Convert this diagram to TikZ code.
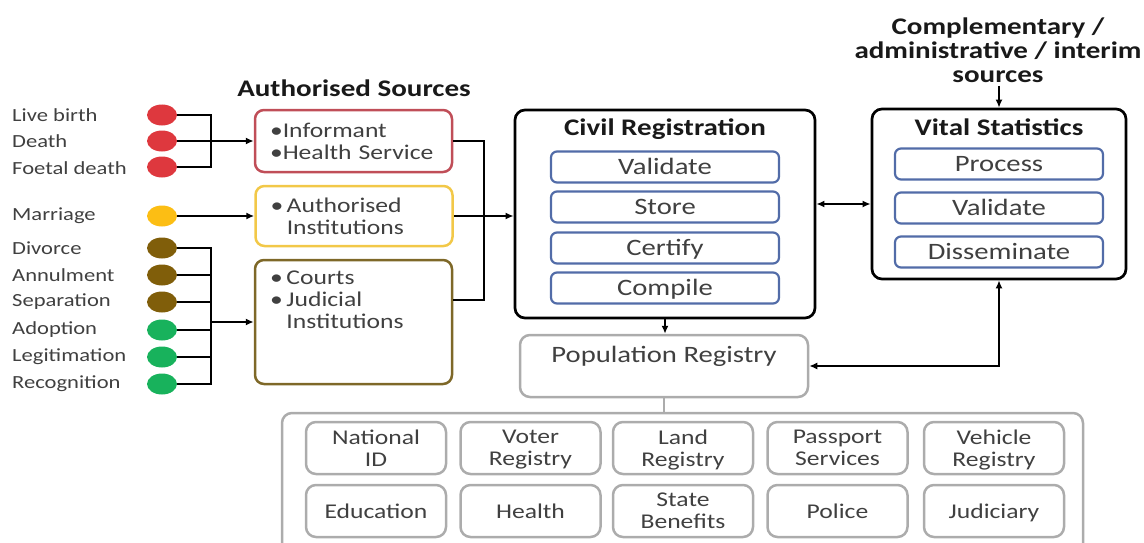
\documentclass[tikz,border=0pt]{standalone}
\usepackage{fontspec}
\setmainfont{Carlito}[FakeStretch=1.22]
\usetikzlibrary{shapes.geometric,arrows.meta}

\definecolor{txt}{RGB}{64,64,64}
\definecolor{ttlc}{RGB}{25,25,25}
\definecolor{dred}{RGB}{222,56,62}
\definecolor{dyel}{RGB}{252,190,20}
\definecolor{dbrn}{RGB}{128,94,10}
\definecolor{dgrn}{RGB}{24,178,92}
\definecolor{bred}{RGB}{192,78,88}
\definecolor{byel}{RGB}{242,200,72}
\definecolor{bbrn}{RGB}{126,104,40}
\definecolor{bblu}{RGB}{82,108,168}
\definecolor{bgry}{RGB}{172,172,172}

\begin{document}
\begin{tikzpicture}[x=1pt,y=-1pt,>={Latex[length=8pt,width=7pt]},
    lbl/.style={anchor=west,inner sep=0pt,text=txt,font=\fontsize{18.5}{22}\selectfont},
    evdot/.style={ellipse,minimum width=30pt,minimum height=21pt,inner sep=0pt},
    srcbox/.style={draw,line width=2.5pt,rounded corners=9pt,minimum width=197pt,
        text width=167pt,inner xsep=15pt,align=left,text=txt,font=\fontsize{21}{22}\selectfont},
    ttl/.style={text=ttlc,font=\bfseries\fontsize{23.8}{24}\selectfont},
    sysbox/.style={draw=black,line width=2.7pt,rounded corners=10pt},
    task/.style={draw=bblu,line width=2.2pt,rounded corners=6pt,minimum height=31pt,
        text=txt,font=\fontsize{23.5}{24}\selectfont,inner sep=0pt,
        text height=15pt,text depth=0pt},
    reg/.style={draw=bgry,line width=2.5pt,rounded corners=10pt},
    agency/.style={reg,minimum width=140pt,minimum height=52pt,align=center,
        text=txt,font=\fontsize{21}{22}\selectfont,inner sep=0pt,text depth=0pt},
    conn/.style={line width=2pt,draw=black}]
    \useasboundingbox (0,0) rectangle (1144,543);
    \clip (0,0) rectangle (1144,543);

    % 事件名称
    \node[lbl] (llb) at (12,115) {Live birth};
    \node[lbl] (ldt) at (12,141) {Death};
    \node[lbl] (lfd) at (12,168) {Foetal death};
    \node[lbl] (lmr) at (12,216) {Marriage};
    \node[lbl] (ldv) at (12,248) {Divorce};
    \node[lbl] (lan) at (12,275) {Annulment};
    \node[lbl] (lsp) at (12,302) {Separation};
    \node[lbl] (lad) at (12,330) {Adoption};
    \node[lbl] (llg) at (12,357) {Legitimation};
    \node[lbl] (lrc) at (12,384) {Recognition};

    % 彩色圆点
    \node[evdot,fill=dred] (dlb) at (162,115) {};
    \node[evdot,fill=dred] (ddt) at (162,141) {};
    \node[evdot,fill=dred] (dfd) at (162,167) {};
    \node[evdot,fill=dyel] (dmr) at (162,216) {};
    \node[evdot,fill=dbrn] (ddv) at (162,248) {};
    \node[evdot,fill=dbrn] (dan) at (162,275) {};
    \node[evdot,fill=dbrn] (dsp) at (162,302) {};
    \node[evdot,fill=dgrn] (dad) at (162,330) {};
    \node[evdot,fill=dgrn] (dlg) at (162,357) {};
    \node[evdot,fill=dgrn] (drc) at (162,384) {};

    % 授权来源
    \node[ttl] (srct) at (354,88) {Authorised Sources};
    \node[srcbox,draw=bred,minimum height=62pt] (inf) at (353.5,141)
        {\textbullet Informant\\\textbullet Health Service};
    \node[srcbox,draw=byel,minimum height=60pt] (aut) at (354,216)
        {\textbullet\,Authorised\\\hphantom{\textbullet\,}Institutions};
    \node[srcbox,draw=bbrn,minimum height=124pt] (jud) at (353.5,322) {};
    \node[lbl,anchor=north west,text width=167pt,align=left,font=\fontsize{21}{22}\selectfont]
        (judt) at (270,271) {\textbullet\,Courts\\\textbullet\,Judicial\\\hphantom{\textbullet\,}Institutions};

    % 民事登记
    \node[sysbox,minimum width=300pt,minimum height=208pt] (civ) at (665,214) {};
    \node[ttl] (civt) at (665,129) {Civil Registration};
    \node[task,minimum width=228pt] (cval) at (665,167) {Validate};
    \node[task,minimum width=228pt] (csto) at (665,207) {Store};
    \node[task,minimum width=228pt] (ccer) at (665,248) {Certify};
    \node[task,minimum width=228pt] (ccom) at (665,288) {Compile};

    % 人口动态统计
    \node[ttl,align=center] (comp) at (998,50)
        {Complementary /\\administrative / interim\\sources};
    \node[sysbox,minimum width=254pt,minimum height=170pt] (vit) at (999,194) {};
    \node[ttl] (vitt) at (999,127) {Vital Statistics};
    \node[task,minimum width=208pt] (vpro) at (999,164) {Process};
    \node[task,minimum width=208pt] (vval) at (999,208) {Validate};
    \node[task,minimum width=208pt] (vdis) at (999,252) {Disseminate};

    % 人口登记及相关机构
    \node[reg,minimum width=288pt,minimum height=62pt,
        label={[anchor=north,yshift=-9pt,text=txt,font=\fontsize{23.5}{24}\selectfont]north:Population Registry}]
        (pop) at (664,366) {};
    \node[reg,minimum width=801pt,minimum height=147pt] (agencies) at (682.5,486.5) {};
    \node[agency] (nid) at (376,448) {National\\ID};
    \node[agency] (vot) at (530.5,448) {Voter\\Registry};
    \node[agency] (lnd) at (683,448) {Land\\Registry};
    \node[agency] (psp) at (837.5,448) {Passport\\Services};
    \node[agency] (veh) at (994,448) {Vehicle\\Registry};
    \node[agency] (edu) at (376,511) {Education};
    \node[agency] (hlt) at (530.5,511) {Health};
    \node[agency] (stb) at (683,511) {State\\Benefits};
    \node[agency] (pol) at (837.5,511) {Police};
    \node[agency] (jdc) at (994,511) {Judiciary};

    % 连接线
    \coordinate (busl) at (211,0);
    \coordinate (busr) at (484,0);
    \coordinate (judo) at ([yshift=22pt]jud.east);
    \draw[conn] (dlb.east) -| (busl |- dfd) -- (dfd.east);
    \draw[conn,->] (ddt.east) -- (inf.west);
    \draw[conn,->] (dmr.east) -- (aut.west);
    \draw[conn] (ddv.east) -| (busl |- drc) -- (drc.east);
    \draw[conn] (dan.east) -- (dan.east -| busl);
    \draw[conn] (dsp.east) -- (dsp.east -| busl);
    \draw[conn] (dad.east) -- (dad.east -| busl);
    \draw[conn] (dlg.east) -- (dlg.east -| busl);
    \draw[conn,->] (busl |- jud.west) -- (jud.west);
    \draw[conn] (inf.east) -| (busr |- judo) -- (judo);
    \draw[conn,->] (aut.east) -- (aut.east -| civ.west);
    \draw[conn,<->] ([yshift=10pt]civ.east) -- ([yshift=10pt]civ.east -| vit.west);
    \draw[conn,->] (vit.north |- comp.south) -- (vit.north);
    \draw[conn,->] (civ.south) -- (civ.south |- pop.north);
    \draw[conn,<->] (pop.east) -| (vit.south);
    \draw[line width=2pt,draw=bgry] (pop.south) -- (pop.south |- agencies.north);
\end{tikzpicture}
\end{document}
